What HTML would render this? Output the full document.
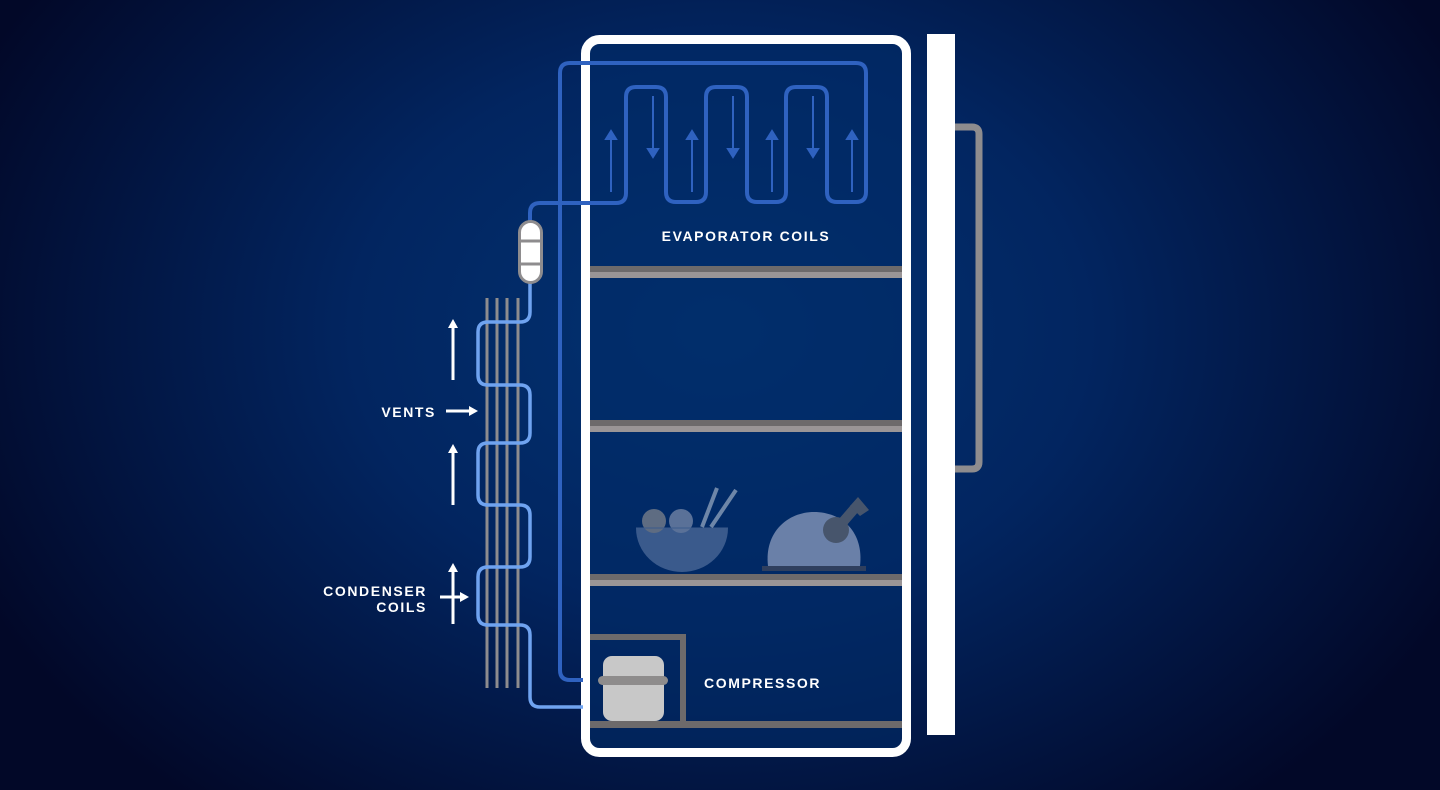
<!DOCTYPE html>
<html><head><meta charset="utf-8"><style>
html,body{margin:0;padding:0;background:#021a4a;}
svg{display:block}
text{font-family:"Liberation Sans",sans-serif;font-weight:bold;fill:#fff;font-size:14px;letter-spacing:1.6px}
</style></head><body>
<svg width="1440" height="790" viewBox="0 0 1440 790" xmlns="http://www.w3.org/2000/svg">
<defs>
<radialGradient id="bg" cx="720" cy="330" r="820" gradientUnits="userSpaceOnUse" gradientTransform="translate(720 330) scale(1 0.75) translate(-720 -330)">
<stop offset="0" stop-color="#023372"/>
<stop offset="0.45" stop-color="#022560"/>
<stop offset="1" stop-color="#020828"/>
</radialGradient>
</defs>
<rect width="1440" height="790" fill="url(#bg)"/>
<rect x="588" y="42" width="315" height="707" rx="10" fill="#022c68" opacity="0.6"/>
<g>
<rect x="590" y="266" width="312" height="6" fill="#6d6a6b"/><rect x="590" y="272" width="312" height="6" fill="#9a9596"/>
<rect x="590" y="420" width="312" height="6" fill="#6d6a6b"/><rect x="590" y="426" width="312" height="6" fill="#9a9596"/>
<rect x="590" y="574" width="312" height="6" fill="#6d6a6b"/><rect x="590" y="580" width="312" height="6" fill="#9a9596"/>
<rect x="590" y="721" width="312" height="7" fill="#6d6a6b"/>
</g>
<path d="M590 637 H683 V722" fill="none" stroke="#6d6a6b" stroke-width="6"/>
<rect x="603" y="656" width="61" height="65" rx="9" fill="#c8c8c8"/>
<rect x="598" y="676" width="70" height="9" rx="4.5" fill="#8e8c8c"/>
<path d="M636 528 A46 44 0 0 0 728 528 Z" fill="#3a5a8c"/>
<circle cx="654" cy="521" r="12" fill="#5e6c82"/>
<circle cx="681" cy="521" r="12" fill="#5a7198"/>
<path d="M636 528 H728" stroke="#3a5a8c" stroke-width="1"/>
<line x1="702" y1="527" x2="717" y2="488" stroke="#6e86a8" stroke-width="4"/>
<line x1="711" y1="527" x2="736" y2="490" stroke="#6e86a8" stroke-width="4"/>
<path d="M768 566 C764 532 788 512 814 512 C842 512 864 532 860 566 Z" fill="#6a80a8"/>
<rect x="762" y="566" width="104" height="5" fill="#2f3f5e"/>
<circle cx="836" cy="530" r="13" fill="#47556c"/>
<path d="M836 530 L855 508" stroke="#47556c" stroke-width="10"/>
<path d="M850 506 L858 497 L869 510 L860 516 Z" fill="#47556c"/>
<rect x="585.5" y="39.5" width="321" height="713" rx="14" fill="none" stroke="#fff" stroke-width="9"/>
<rect x="927" y="34" width="28" height="701" fill="#fff"/>
<path d="M955 127 H972 Q979 127 979 134 V462 Q979 469 972 469 H955" fill="none" stroke="#8e8c8e" stroke-width="7"/>
<g stroke="#8e8c8e" stroke-width="3">
<line x1="487" y1="298" x2="487" y2="688"/><line x1="497" y1="298" x2="497" y2="688"/>
<line x1="507" y1="298" x2="507" y2="688"/><line x1="518" y1="298" x2="518" y2="688"/>
</g>
<path d="M530 283 V312 Q530 322 520 322 H488 Q478 322 478 332 V375 Q478 385 488 385 H520 Q530 385 530 395 V433 Q530 443 520 443 H488 Q478 443 478 453 V495 Q478 505 488 505 H520 Q530 505 530 515 V557 Q530 567 520 567 H488 Q478 567 478 577 V615 Q478 625 488 625 H520 Q530 625 530 635 V697 Q530 707 540 707 H583" fill="none" stroke="#6fa3f0" stroke-width="3.5"/>
<path d="M530 222 V213 Q530 203 540 203 H616 Q626 203 626 193 V97 Q626 87 636 87 H656 Q666 87 666 97 V192 Q666 202 676 202 H696 Q706 202 706 192 V97 Q706 87 716 87 H737 Q747 87 747 97 V192 Q747 202 757 202 H776 Q786 202 786 192 V97 Q786 87 796 87 H817 Q827 87 827 97 V192 Q827 202 837 202 H856 Q866 202 866 192 V73 Q866 63 856 63 H570 Q560 63 560 73 V670 Q560 680 570 680 H583" fill="none" stroke="#2f62c0" stroke-width="4"/>
<g stroke="#2f62c0" stroke-width="2" fill="#2f62c0">
<line x1="611" y1="192" x2="611" y2="138"/><path d="M606 139 L611 131 L616 139 Z"/>
<line x1="692" y1="192" x2="692" y2="138"/><path d="M687 139 L692 131 L697 139 Z"/>
<line x1="772" y1="192" x2="772" y2="138"/><path d="M767 139 L772 131 L777 139 Z"/>
<line x1="852" y1="192" x2="852" y2="138"/><path d="M847 139 L852 131 L857 139 Z"/>
<line x1="653" y1="96" x2="653" y2="150"/><path d="M648 149 L653 157 L658 149 Z"/>
<line x1="733" y1="96" x2="733" y2="150"/><path d="M728 149 L733 157 L738 149 Z"/>
<line x1="813" y1="96" x2="813" y2="150"/><path d="M808 149 L813 157 L818 149 Z"/>
</g>
<rect x="519.5" y="221.5" width="22" height="61" rx="11" fill="#fff" stroke="#8e8c8e" stroke-width="3"/>
<line x1="520" y1="241" x2="541" y2="241" stroke="#8e8c8e" stroke-width="3"/>
<line x1="520" y1="264" x2="541" y2="264" stroke="#8e8c8e" stroke-width="3"/>
<g stroke="#fff" stroke-width="3" fill="#fff">
<line x1="453" y1="380" x2="453" y2="326"/><path d="M448 328 L453 319 L458 328 Z" stroke="none"/>
<line x1="453" y1="505" x2="453" y2="451"/><path d="M448 453 L453 444 L458 453 Z" stroke="none"/>
<line x1="453" y1="624" x2="453" y2="570"/><path d="M448 572 L453 563 L458 572 Z" stroke="none"/>
<line x1="440" y1="597" x2="462" y2="597"/><path d="M460 592 L469 597 L460 602 Z" stroke="none"/>
<line x1="446" y1="411" x2="471" y2="411"/><path d="M469 406 L478 411 L469 416 Z" stroke="none"/>
</g>
<text x="436" y="417" text-anchor="end">VENTS</text>
<text x="427" y="596" text-anchor="end">CONDENSER</text>
<text x="427" y="612" text-anchor="end">COILS</text>
<text x="746" y="241" text-anchor="middle">EVAPORATOR COILS</text>
<text x="704" y="688">COMPRESSOR</text>
</svg>
</body></html>
